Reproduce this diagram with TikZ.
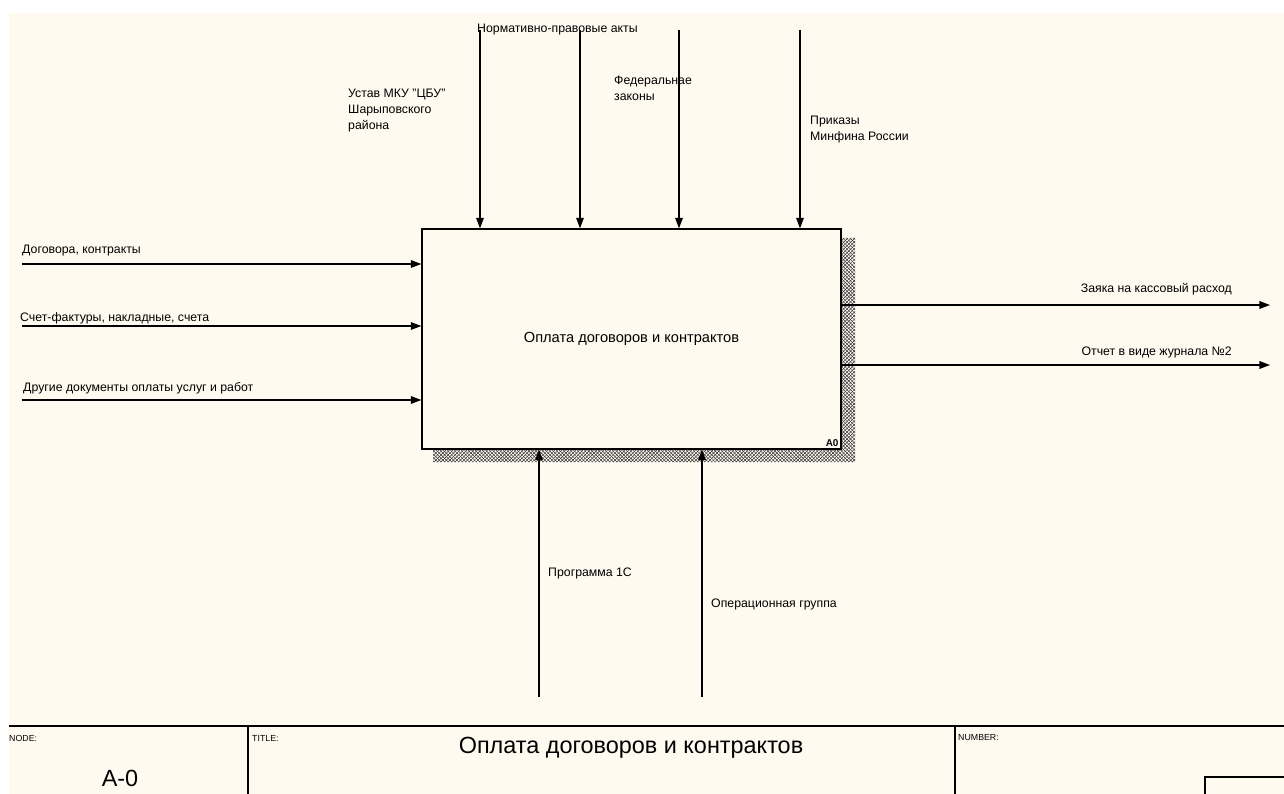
\documentclass[tikz,border=0pt]{standalone}
\usepackage{fontspec}
\setmainfont{Liberation Sans}
\usepackage{tikz}
\usetikzlibrary{arrows.meta, positioning, calc, patterns}
\definecolor{paper}{HTML}{FFFAF0}
\tikzstyle{arrow} = [line width=1.1pt, -{Triangle[length=9pt,width=6.5pt]}]
\tikzstyle{lbl} = [font=\fontsize{10.5}{13.7}\selectfont, inner sep=0pt, align=left]
\tikzstyle{head} = [font=\fontsize{7.5}{9}\selectfont, inner sep=0pt, anchor=west]

\begin{document}
\begin{tikzpicture}[x=0.03cm, y=-0.03cm]
    \useasboundingbox (0,0) rectangle (1284,794);
    \fill[paper] (9,13) rectangle (1284,794);

    % activity box with its shadow
    \fill[pattern=north east lines, pattern color=black!80] (841,238) -- (855,238) -- (855,462) -- (433,462) -- (433,449) -- (841,449) -- cycle;
    \fill[pattern=north west lines, pattern color=black!80] (841,238) -- (855,238) -- (855,462) -- (433,462) -- (433,449) -- (841,449) -- cycle;
    \node[draw, line width=1.1pt, fill=paper, minimum width=12.57cm, minimum height=6.6cm, font=\fontsize{12.5}{15}\selectfont] (act) at (631.5,339) {Оплата договоров и контрактов};
    \node[anchor=south east, inner sep=2.5pt, font=\fontsize{8.5}{10}\selectfont\bfseries] (a0) at (act.south east) {A0};

    % controls
    \coordinate (c1) at (480,30);
    \coordinate (c2) at (580,30);
    \coordinate (c3) at (679,30);
    \coordinate (c4) at (800,30);
    \draw[arrow] (c1) -- (c1 |- act.north);
    \draw[arrow] (c2) -- (c2 |- act.north);
    \draw[arrow] (c3) -- (c3 |- act.north);
    \draw[arrow] (c4) -- (c4 |- act.north);
    \node[lbl, anchor=west] (npa) at (477,30) {Нормативно-правовые акты};
    \node[lbl, anchor=north west] (ustav) at (348,89) {Устав МКУ \char34 ЦБУ\char34\\Шарыповского\\района};
    \node[lbl, anchor=north west] (fz) at (614,76) {Федеральнае\\законы};
    \node[lbl, anchor=north west] (prik) at (810,116) {Приказы\\Минфина России};

    % inputs
    \coordinate (i1) at (22,264);
    \coordinate (i2) at (22,326);
    \coordinate (i3) at (22,400);
    \draw[arrow] (i1) -- (i1 -| act.west);
    \draw[arrow] (i2) -- (i2 -| act.west);
    \draw[arrow] (i3) -- (i3 -| act.west);
    \node[lbl, anchor=west] (dog) at (22,251) {Договора, контракты};
    \node[lbl, anchor=west] (sch) at (20,318) {Счет-фактуры, накладные, счета};
    \node[lbl, anchor=west] (dr) at (23,388) {Другие документы оплаты услуг и работ};

    % outputs
    \coordinate (o1) at (1270,305);
    \coordinate (o2) at (1270,365);
    \draw[arrow] (o1 -| act.east) -- (o1);
    \draw[arrow] (o2 -| act.east) -- (o2);
    \node[lbl, anchor=east] (zay) at (1232,289) {Заяка на кассовый расход};
    \node[lbl, anchor=east] (otch) at (1232,352) {Отчет в виде журнала №2};

    % mechanisms
    \coordinate (m1) at (539,697);
    \coordinate (m2) at (702,697);
    \draw[arrow] (m1) -- (m1 |- act.south);
    \draw[arrow] (m2) -- (m2 |- act.south);
    \node[lbl, anchor=west] (prog) at (548,573) {Программа 1С};
    \node[lbl, anchor=west] (oper) at (711,604) {Операционная группа};

    % title block
    \draw[line width=1.3pt] (9,726) -- (1284,726);
    \draw[line width=1.1pt] (248,726) -- (248,794);
    \draw[line width=1.1pt] (955,726) -- (955,794);
    \draw[line width=1.1pt] (1205,794) -- (1205,777) -- (1284,777);
    \node[head] (nodeh) at (9,738) {NODE:};
    \node[head] (titleh) at (252,738) {TITLE:};
    \node[head] (numh) at (958,738) {NUMBER:};
    \node[font=\fontsize{20}{24}\selectfont, inner sep=0pt] (nodev) at (120,778) {A-0};
    \node[font=\fontsize{20}{24}\selectfont, inner sep=0pt] (titlev) at (631,748) {Оплата договоров и контрактов};
\end{tikzpicture}
\end{document}
